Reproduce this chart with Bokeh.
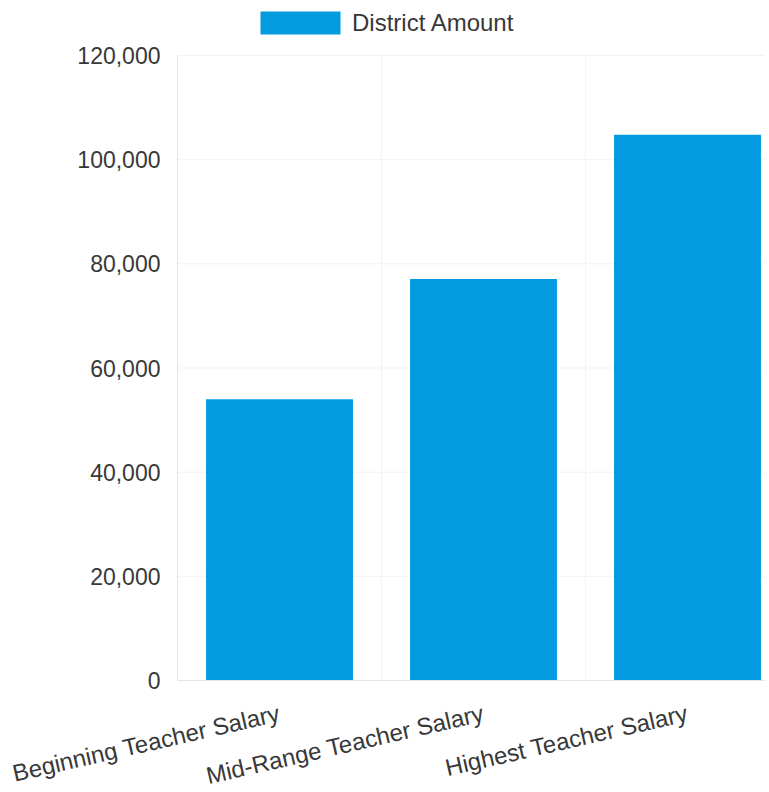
import numpy as np
from bokeh.plotting import figure
from bokeh.models import (Range1d, FixedTicker, NumeralTickFormatter, ColumnDataSource,
                          Legend, LegendItem)
from bokeh.embed import file_html
from bokeh.resources import INLINE

categories = ["Beginning Teacher Salary", "Mid-Range Teacher Salary", "Highest Teacher Salary"]
district_amount = [54000, 77100, 104800]
y_ticks = [0, 20000, 40000, 60000, 80000, 100000, 120000]
series_name = "District Amount"

BAR_COLOR = "#039BE0"
TEXT_COLOR = "#383838"
GRID_COLOR = "#f3f3f3"
AXIS_COLOR = "#e4e4e4"
FONT = "Liberation Sans"

# layout (pixels): the frame covers the whole figure so the legend above and the
# rotated category labels below the bars are not clipped; axes sit at x=0 / y=0
FIG_W, FIG_H = 765, 790
X_ZERO_PX = 177                    # where the value axis sits
Y_TOP_PX, Y_ZERO_PX = 55, 680      # where 120,000 and 0 sit
CAT_PX = 204                       # width of one category band
y_max = y_ticks[-1]
upp = y_max / (Y_ZERO_PX - Y_TOP_PX)           # data units per pixel
y_start = -(FIG_H - Y_ZERO_PX) * upp
y_end = y_max + Y_TOP_PX * upp
x_start = -X_ZERO_PX / CAT_PX
x_end = (FIG_W - X_ZERO_PX) / CAT_PX

xpos = np.arange(len(categories)) + 0.5
src = ColumnDataSource(dict(x=xpos, top=district_amount, cat=categories))

p = figure(width=FIG_W, height=FIG_H, output_backend="svg", toolbar_location=None,
           x_range=Range1d(x_start, x_end), y_range=Range1d(y_start, y_end),
           min_border_left=0, min_border_right=0, min_border_top=0, min_border_bottom=0)
p.outline_line_color = None
p.background_fill_color = "white"
p.border_fill_color = "white"
p.xgrid.visible = False
p.ygrid.visible = False

# faint grid lines, limited to the plotting area
p.segment(x0=0, x1=x_end, y0=y_ticks[1:], y1=y_ticks[1:], line_color=GRID_COLOR, line_width=1)
bounds = np.arange(1, len(categories))
p.segment(x0=bounds, x1=bounds, y0=0, y1=y_max, line_color=GRID_COLOR, line_width=1)

r = p.vbar(x="x", top="top", width=0.72, bottom=0, source=src,
           fill_color=BAR_COLOR, line_color=None)

# y axis at x = 0
p.yaxis.fixed_location = 0
p.yaxis.ticker = FixedTicker(ticks=y_ticks)
p.yaxis.bounds = (0, y_max)
p.yaxis.formatter = NumeralTickFormatter(format="0,0")
p.yaxis.axis_line_color = AXIS_COLOR
p.yaxis.major_tick_line_color = None
p.yaxis.major_tick_out = 0
p.yaxis.major_tick_in = 0
p.yaxis.minor_tick_line_color = None
p.yaxis.major_label_text_font = FONT
p.yaxis.major_label_text_font_size = "23px"
p.yaxis.major_label_text_color = TEXT_COLOR
p.yaxis.major_label_standoff = 17

# x axis at y = 0
p.xaxis.fixed_location = 0
p.xaxis.bounds = (0, x_end)
p.xaxis.ticker = FixedTicker(ticks=list(xpos))
p.xaxis.major_label_overrides = {float(x): c for x, c in zip(xpos, categories)}
p.xaxis.axis_line_color = AXIS_COLOR
p.xaxis.major_tick_line_color = None
p.xaxis.minor_tick_line_color = None
p.xaxis.major_label_text_font = FONT
p.xaxis.major_label_text_font_size = "24px"
p.xaxis.major_label_text_color = TEXT_COLOR
p.xaxis.major_label_orientation = 0.225
p.xaxis.major_label_standoff = 26

legend = Legend(items=[LegendItem(label=series_name, renderers=[r])],
                location=(250, FIG_H - 37), orientation="horizontal",
                border_line_color=None, background_fill_alpha=0,
                padding=0, margin=0, spacing=0,
                glyph_width=100, glyph_height=29, label_standoff=2,
                label_text_font=FONT, label_text_font_size="24px",
                label_text_color=TEXT_COLOR, label_height=29)
p.add_layout(legend, "center")

open("out.html", "w").write(file_html(p, INLINE))
